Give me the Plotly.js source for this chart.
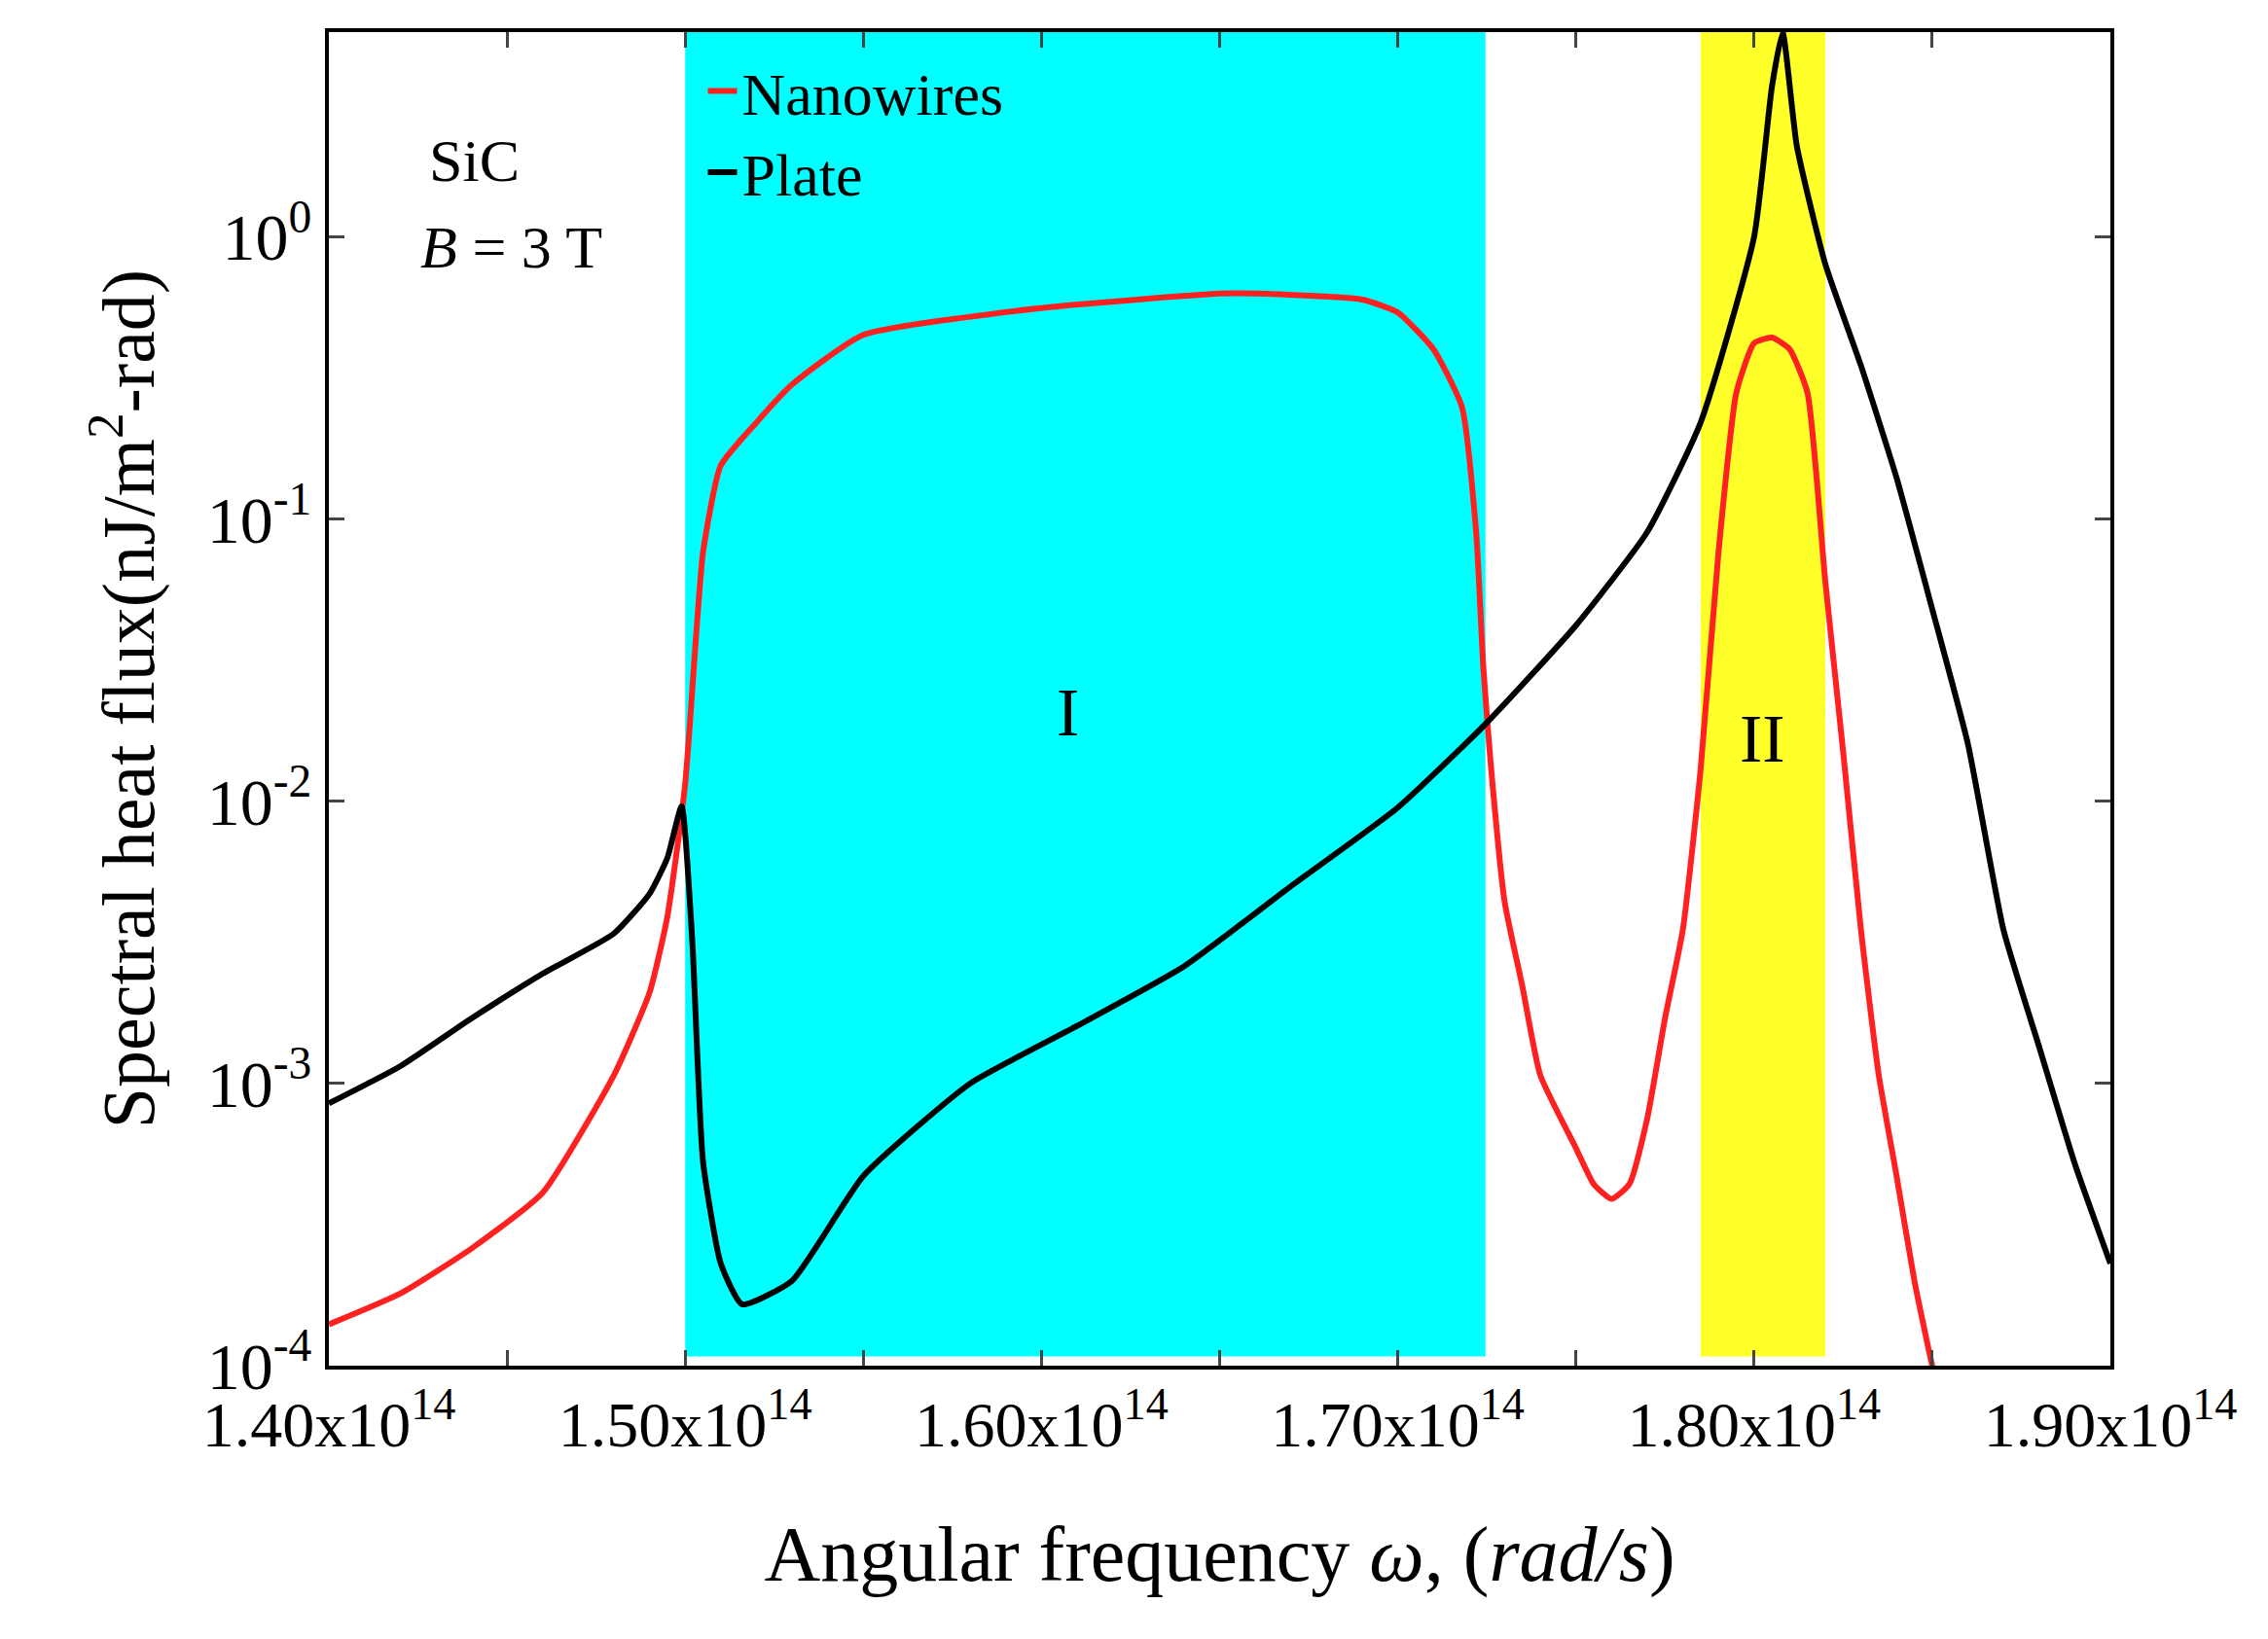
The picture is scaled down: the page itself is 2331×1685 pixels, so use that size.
<!DOCTYPE html>
<html><head><meta charset="utf-8">
<script src="https://cdn.plot.ly/plotly-3.0.1.min.js"></script>
<style>body{margin:0}#c{width:2331px;height:1685px}</style></head>
<body><div id="c"></div>
<script>
const plateX=[1.40,1.42,1.44,1.46,1.48,1.49,1.495,1.499,1.502,1.505,1.51,1.516,1.53,1.55,1.58,1.61,1.64,1.67,1.70,1.725,1.75,1.77,1.785,1.80,1.805,1.808,1.812,1.82,1.83,1.84,1.85,1.86,1.87,1.88,1.89,1.90];
const plateY=[8.5e-4,1.15e-3,1.7e-3,2.45e-3,3.4e-3,4.7e-3,6.3e-3,9.6e-3,3.2e-3,5.3e-4,2.3e-4,1.65e-4,2.0e-4,4.7e-4,1.0e-3,1.6e-3,2.6e-3,5e-3,9.5e-3,1.9e-2,4.2e-2,9e-2,0.22,1.0,3.4,5.3,2.1,0.8,0.35,0.14,0.048,1.6e-2,3.5e-3,1.35e-3,5.2e-4,2.3e-4];
const wireX=[1.40,1.42,1.44,1.46,1.48,1.49,1.495,1.50,1.505,1.51,1.52,1.53,1.55,1.60,1.65,1.66,1.69,1.70,1.71,1.718,1.722,1.724,1.726,1.73,1.735,1.74,1.75,1.755,1.76,1.765,1.77,1.775,1.78,1.785,1.79,1.795,1.80,1.805,1.81,1.815,1.82,1.825,1.83,1.835,1.84,1.845,1.85,1.852];
const wireY=[1.4e-4,1.8e-4,2.6e-4,4.1e-4,1.07e-3,2.1e-3,3.9e-3,1.15e-2,7.6e-2,0.155,0.22,0.3,0.45,0.56,0.63,0.63,0.6,0.54,0.4,0.25,0.09,0.03,1.4e-2,4.4e-3,2.2e-3,1.07e-3,5.9e-4,4.4e-4,3.9e-4,4.4e-4,7.5e-4,1.7e-3,3.5e-3,1.3e-2,7.6e-2,0.28,0.42,0.44,0.4,0.28,0.06,1.5e-2,3.5e-3,1.07e-3,4.7e-4,2.0e-4,1e-4,8e-5];
const xTickVals=[1.40,1.45,1.50,1.55,1.60,1.65,1.70,1.75,1.80,1.85,1.90];
const xTickText=['1.40x10<sup>14</sup>','','1.50x10<sup>14</sup>','','1.60x10<sup>14</sup>','','1.70x10<sup>14</sup>','','1.80x10<sup>14</sup>','','1.90x10<sup>14</sup>'];
const yTickVals=[1e-4,1e-3,1e-2,1e-1,1];
const yTickText=['10<sup>-4</sup>','10<sup>-3</sup>','10<sup>-2</sup>','10<sup>-1</sup>','10<sup>0</sup>'];
const sc=v=>v.map(a=>a*1e14);
const F='Liberation Serif, Times New Roman, serif';
Plotly.newPlot('c',[
 {x:sc(wireX),y:wireY,mode:'lines',name:'Nanowires',line:{color:'#ff2020',width:6,shape:'spline',smoothing:0.5}},
 {x:sc(plateX),y:plateY,mode:'lines',name:'Plate',line:{color:'#000',width:6,shape:'spline',smoothing:0.5}}
],{
 width:2331,height:1685,paper_bgcolor:'#fff',plot_bgcolor:'#fff',
 margin:{l:338,r:162,t:33,b:281},
 font:{family:F,color:'#000',size:66},
 showlegend:true,
 legend:{x:0.21,y:0.99,bgcolor:'rgba(0,0,0,0)',font:{size:62}},
 xaxis:{range:[1.40e14,1.90e14],tickvals:sc(xTickVals),ticktext:xTickText,ticks:'inside',ticklen:16,tickwidth:3,
  showline:true,linewidth:4,linecolor:'#000',mirror:'ticks',showgrid:false,zeroline:false,tickfont:{size:66},
  title:{text:'Angular frequency <i>ω</i>, (<i>rad/s</i>)',font:{size:80},standoff:70}},
 yaxis:{type:'log',range:[-4,0.726],tickvals:yTickVals,ticktext:yTickText,ticks:'inside',ticklen:16,tickwidth:3,
  showline:true,linewidth:4,linecolor:'#000',mirror:'ticks',showgrid:false,zeroline:false,tickfont:{size:68},
  title:{text:'Spectral heat flux(nJ/m<sup>2</sup>-rad)',font:{size:76},standoff:30}},
 shapes:[
  {type:'rect',xref:'x',yref:'paper',x0:1.50e14,x1:1.7246e14,y0:0.007,y1:1,fillcolor:'#00ffff',line:{width:0},layer:'below'},
  {type:'rect',xref:'x',yref:'paper',x0:1.785e14,x1:1.82e14,y0:0.007,y1:1,fillcolor:'#ffff2a',line:{width:0},layer:'below'}
 ],
 annotations:[
  {xref:'paper',yref:'paper',x:0.055,y:0.93,text:'SiC',showarrow:false,font:{size:62}},
  {xref:'paper',yref:'paper',x:0.05,y:0.865,text:'<i>B</i> = 3 T',showarrow:false,font:{size:62}},
  {xref:'x',yref:'paper',x:1.6075e14,y:0.49,text:'I',showarrow:false,font:{size:70}},
  {xref:'x',yref:'paper',x:1.8025e14,y:0.47,text:'II',showarrow:false,font:{size:70}}
 ]
},{displayModeBar:false});
</script></body></html>
